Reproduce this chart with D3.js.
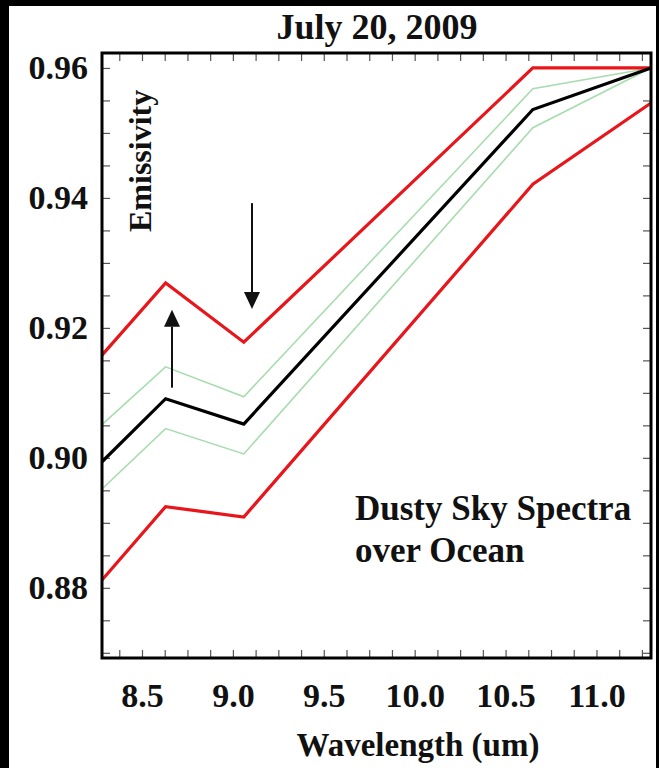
<!DOCTYPE html>
<html><head><meta charset="utf-8">
<script src="https://cdn.jsdelivr.net/npm/d3@7"></script>
<style>
html,body{margin:0;padding:0;background:#fff;}
svg{display:block;}
text{font-family:"Liberation Serif","Times New Roman",serif;font-weight:bold;fill:#111;}
</style></head>
<body>
<script>
// Data
const wavelengths = [8.28, 8.63, 9.06, 10.65, 11.30];
const upperRed   = [0.9158, 0.9269, 0.9178, 0.9600, 0.9600];
const upperGreen = [0.9051, 0.9140, 0.9094, 0.9568, 0.9600];
const meanBlack  = [0.8994, 0.9091, 0.9052, 0.9536, 0.9600];
const lowerGreen = [0.8952, 0.9045, 0.9006, 0.9508, 0.9600];
const lowerRed   = [0.8812, 0.8925, 0.8909, 0.9421, 0.9546];
const xTickLabels = [8.5, 9.0, 9.5, 10.0, 10.5, 11.0];
const yTickLabels = [0.88, 0.90, 0.92, 0.94, 0.96];
const titleText = "July 20, 2009";
const xTitle = "Wavelength (um)";
const yTitle = "Emissivity";
const noteLines = ["Dusty Sky Spectra", "over Ocean"];
// arrows: [x, yFrom, yTo]
const arrows = [[8.665, 0.9108, 0.9228], [9.105, 0.9392, 0.9229]];

const W = 659, H = 768;
const L = 102, R = 651, T = 53, B = 658;
const svg = d3.select("body").append("svg").attr("width", W).attr("height", H);

// black frame edges
svg.append("rect").attr("x",0).attr("y",0).attr("width",W).attr("height",H).attr("fill","#000");
svg.append("rect").attr("x",9).attr("y",6).attr("width",W-12).attr("height",H-6).attr("fill","#fff");

const x = d3.scaleLinear().domain([8.28, 11.30]).range([L, R]);
const y = d3.scaleLinear().domain([0.8692, 0.9623]).range([B, T]);

// minor ticks (inside, all four sides)
const xMinor = d3.range(8.375, 11.30, 0.125);
const yMinor = d3.range(0.87, 0.9625, 0.005);
const tk = 8;
svg.append("g").attr("transform",`translate(0,${B})`)
  .call(d3.axisBottom(x).tickValues(xMinor).tickSize(-tk).tickFormat(""));
svg.append("g").attr("transform",`translate(0,${T})`)
  .call(d3.axisTop(x).tickValues(xMinor).tickSize(-tk).tickFormat(""));
svg.append("g").attr("transform",`translate(${L},0)`)
  .call(d3.axisLeft(y).tickValues(yMinor).tickSize(-tk).tickFormat(""));
svg.append("g").attr("transform",`translate(${R},0)`)
  .call(d3.axisRight(y).tickValues(yMinor).tickSize(-tk).tickFormat(""));
svg.selectAll(".domain").remove();
svg.selectAll(".tick line").attr("stroke","#555").attr("stroke-width",1.2);

// tick labels
const xl = svg.append("g").attr("transform",`translate(0,${B})`)
  .call(d3.axisBottom(x).tickValues(xTickLabels).tickSize(0).tickPadding(25).tickFormat(d3.format(".1f")));
xl.select(".domain").remove();
xl.selectAll("text").attr("font-size",34).attr("font-family",null).attr("fill","#111");
const yl = svg.append("g").attr("transform",`translate(${L},0)`)
  .call(d3.axisLeft(y).tickValues(yTickLabels).tickSize(0).tickPadding(14).tickFormat(d3.format(".2f")));
yl.select(".domain").remove();
yl.selectAll("text").attr("font-size",34).attr("font-family",null).attr("fill","#111");

// lines
const line = d3.line().x((d,i)=>x(wavelengths[i])).y(d=>y(d));
const plot = svg.append("g");
const series = [
  [upperGreen, "#a8dcae", 1.6],
  [lowerGreen, "#a8dcae", 1.6],
  [lowerRed, "#e8161b", 3.2],
  [upperRed, "#e8161b", 3.2],
  [meanBlack, "#000", 3.2]
];
series.forEach(([vals,c,w])=>{
  plot.append("path").attr("d", line(vals)).attr("fill","none")
    .attr("stroke",c).attr("stroke-width",w).attr("stroke-linejoin","miter");
});

// arrows
arrows.forEach(([ax, y0, y1])=>{
  const px = x(ax), p0 = y(y0), p1 = y(y1);
  const dir = p1 < p0 ? -1 : 1;
  const headLen = 17, headHalf = 8;
  svg.append("line").attr("x1",px).attr("x2",px).attr("y1",p0).attr("y2",p1 - dir*headLen)
    .attr("stroke","#111").attr("stroke-width",2);
  svg.append("path").attr("d",`M${px},${p1} L${px-headHalf},${p1-dir*headLen} L${px+headHalf},${p1-dir*headLen} Z`)
    .attr("fill","#111");
});

// frame
svg.append("rect").attr("x",L).attr("y",T).attr("width",R-L).attr("height",B-T)
  .attr("fill","none").attr("stroke","#000").attr("stroke-width",3);

// texts
svg.append("text").attr("x",377).attr("y",39).attr("text-anchor","middle").attr("font-size",36).text(titleText);
svg.append("text").attr("x",418).attr("y",756).attr("text-anchor","middle").attr("font-size",33).text(xTitle);
svg.append("text").attr("transform","translate(151,232) rotate(-90)").attr("font-size",32).text(yTitle);
noteLines.forEach((t,i)=>{
  svg.append("text").attr("x",355).attr("y",520 + i*42).attr("font-size",35).text(t);
});
</script>
</body></html>
